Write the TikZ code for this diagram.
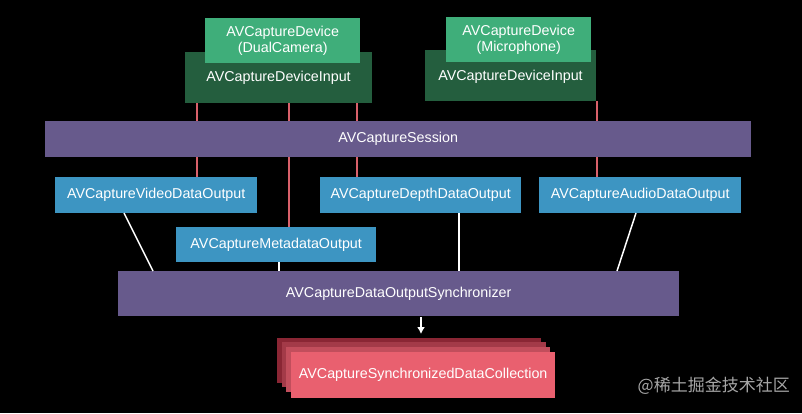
\documentclass[tikz,border=0pt]{standalone}
\usepackage{fontspec}
\usetikzlibrary{arrows.meta}
\setmainfont{Liberation Sans}
\newfontfamily\cjk{Noto Sans CJK SC}
\definecolor{devc}{HTML}{3FAE7A}
\definecolor{inpc}{HTML}{245E3E}
\definecolor{sesc}{HTML}{675A8C}
\definecolor{outc}{HTML}{3D95C2}
\definecolor{redl}{HTML}{D9606A}
\definecolor{col1}{HTML}{8A2634}
\definecolor{col2}{HTML}{A33A48}
\definecolor{col3}{HTML}{C24E5C}
\definecolor{col4}{HTML}{E9606F}
\begin{document}
\begin{tikzpicture}[x=1pt,y=-1pt,
  box/.style={draw=none,text=white,font=\fontsize{14.3}{16}\selectfont,align=center,inner sep=0pt},
  red/.style={redl,line width=1.3pt},
  wht/.style={white,line width=1.5pt}]
\fill[black] (0,0) rectangle (802,413);
\useasboundingbox (0,0) rectangle (802,413);
% red lines (behind boxes)
\draw[red] (197,103) -- (197,177);
\draw[red] (289,103) -- (289,227);
\draw[red] (357,103) -- (357,177);
\draw[red] (597,101) -- (597,177);
% inputs
\node[box,fill=inpc,minimum width=187,minimum height=51,anchor=north west] (in1) at (185,52) {};
\node[box] (in1t) at (278.5,78) {AVCaptureDeviceInput};
\node[box,fill=devc,minimum width=155,minimum height=45,anchor=north west] (dev1) at (205,18) {AVCaptureDevice\\(DualCamera)};
\node[box,fill=inpc,minimum width=171,minimum height=51,anchor=north west] (in2) at (425,50) {};
\node[box] (in2t) at (510.5,77) {AVCaptureDeviceInput};
\node[box,fill=devc,minimum width=145,minimum height=45,anchor=north west] (dev2) at (446,17) {AVCaptureDevice\\(Microphone)};
% session
\node[box,fill=sesc,minimum width=706,minimum height=36,anchor=north west] (ses) at (45,121) {AVCaptureSession};
% outputs
\node[box,fill=outc,minimum width=202,minimum height=36,anchor=north west] (vid) at (55,177) {AVCaptureVideoDataOutput};
\node[box,fill=outc,minimum width=201,minimum height=36,anchor=north west] (dep) at (320,177) {AVCaptureDepthDataOutput};
\node[box,fill=outc,minimum width=202,minimum height=36,anchor=north west] (aud) at (539,177) {AVCaptureAudioDataOutput};
\node[box,fill=outc,minimum width=200,minimum height=35,anchor=north west] (met) at (176,227) {AVCaptureMetadataOutput};
% synchronizer
\node[box,fill=sesc,minimum width=561,minimum height=45,anchor=north west] (syn) at (118,271) {AVCaptureDataOutputSynchronizer};
% stack
\fill[col1] (277,338) rectangle +(264,45);
\fill[col2] (282,342) rectangle +(264,45);
\fill[col3] (286,347) rectangle +(264,45);
\node[box,fill=col4,minimum width=264,minimum height=46,anchor=north west] (col) at (291,352) {AVCaptureSynchronizedDataCollection};
% white lines
\draw[wht] (124,213) -- (153,271);
\draw[wht] (279,262) -- (279,271);
\draw[wht] (459,213) -- (459,271);
\draw[wht] (636,213) -- (617,271);
\coordinate (a1) at (421,317);
\coordinate (a2) at (421,334);
\draw[white,line width=1.5pt,-{Latex[length=7pt,width=8pt]}] (a1) -- (a2);
\node[text=gray!70,font=\cjk\fontsize{17}{19}\selectfont,anchor=east,inner sep=0pt] (wm) at (790,386) {@稀土掘金技术社区};
\end{tikzpicture}
\end{document}
